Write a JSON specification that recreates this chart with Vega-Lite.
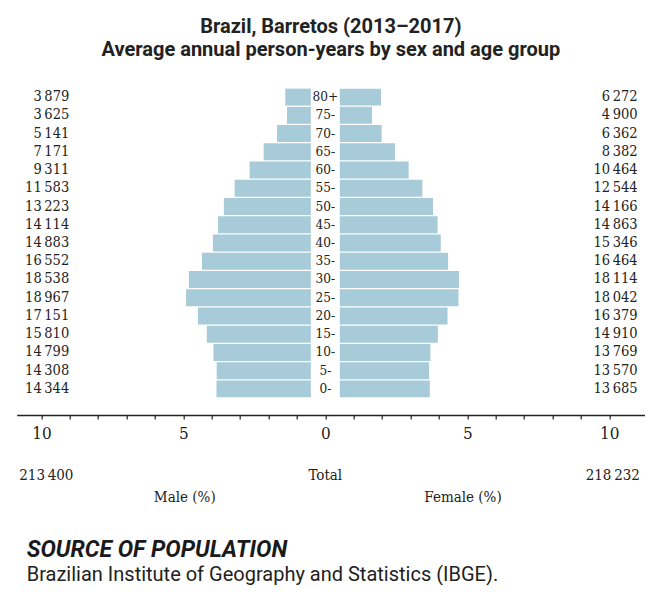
{
  "$schema": "https://vega.github.io/schema/vega-lite/v6.json",
  "background": "white",
  "padding": {"left": 16.7, "top": 16, "right": 0, "bottom": 0},
  "title": {
    "text": ["Brazil, Barretos (2013–2017)", "Average annual person-years by sex and age group"],
    "font": "Roboto", "fontSize": 20, "fontWeight": "bold", "color": "#222",
    "lineHeight": 23, "anchor": "middle", "offset": 28.5
  },
  "config": {
    "view": {"stroke": null},
    "locale": {"number": {"decimal": ".", "thousands": "\u2009", "grouping": [3], "currency": ["", ""]}}
  },
  "datasets": {
    "pop": [
      {"age": "80+", "sex": "Male", "count": 3879}, {"age": "75-", "sex": "Male", "count": 3625},
      {"age": "70-", "sex": "Male", "count": 5141}, {"age": "65-", "sex": "Male", "count": 7171},
      {"age": "60-", "sex": "Male", "count": 9311}, {"age": "55-", "sex": "Male", "count": 11583},
      {"age": "50-", "sex": "Male", "count": 13223}, {"age": "45-", "sex": "Male", "count": 14114},
      {"age": "40-", "sex": "Male", "count": 14883}, {"age": "35-", "sex": "Male", "count": 16552},
      {"age": "30-", "sex": "Male", "count": 18538}, {"age": "25-", "sex": "Male", "count": 18967},
      {"age": "20-", "sex": "Male", "count": 17151}, {"age": "15-", "sex": "Male", "count": 15810},
      {"age": "10-", "sex": "Male", "count": 14799}, {"age": "5-", "sex": "Male", "count": 14308},
      {"age": "0-", "sex": "Male", "count": 14344},
      {"age": "80+", "sex": "Female", "count": 6272}, {"age": "75-", "sex": "Female", "count": 4900},
      {"age": "70-", "sex": "Female", "count": 6362}, {"age": "65-", "sex": "Female", "count": 8382},
      {"age": "60-", "sex": "Female", "count": 10464}, {"age": "55-", "sex": "Female", "count": 12544},
      {"age": "50-", "sex": "Female", "count": 14166}, {"age": "45-", "sex": "Female", "count": 14863},
      {"age": "40-", "sex": "Female", "count": 15346}, {"age": "35-", "sex": "Female", "count": 16464},
      {"age": "30-", "sex": "Female", "count": 18114}, {"age": "25-", "sex": "Female", "count": 18042},
      {"age": "20-", "sex": "Female", "count": 16379}, {"age": "15-", "sex": "Female", "count": 14910},
      {"age": "10-", "sex": "Female", "count": 13769}, {"age": "5-", "sex": "Female", "count": 13570},
      {"age": "0-", "sex": "Female", "count": 13685}
    ],
    "totals": [
      {"sex": "Male", "total": 213400},
      {"sex": "Female", "total": 218232}
    ]
  },
  "spacing": 27,
  "vconcat": [
    {
      "width": 628.3,
      "height": 310,
      "data": {"name": "pop"},
      "transform": [
        {"joinaggregate": [{"op": "sum", "field": "count", "as": "grand"}]},
        {"calculate": "100 * datum.count / datum.grand", "as": "pct"},
        {"calculate": "datum.sex === 'Male' ? -datum.pct : datum.pct", "as": "signed"}
      ],
      "encoding": {
        "y": {
          "field": "age", "type": "nominal",
          "scale": {"domain": ["80+", "75-", "70-", "65-", "60-", "55-", "50-", "45-", "40-", "35-", "30-", "25-", "20-", "15-", "10-", "5-", "0-"], "paddingInner": 0.07, "paddingOuter": 0.035},
          "axis": null
        }
      },
      "layer": [
        {
          "transform": [{"filter": "datum.sex === 'Male'"}],
          "mark": {"type": "bar", "color": "#a7cbd8", "xOffset": -14.5, "x2Offset": -14.5},
          "encoding": {
            "x": {
              "field": "signed", "type": "quantitative",
              "scale": {"domain": [-10.87, 11.26], "nice": false, "zero": false},
              "axis": {
                "orient": "bottom", "offset": 17, "title": null, "grid": false,
                "values": [-10, -9, -8, -7, -6, -5, -4, -3, -2, -1, 0, 1, 2, 3, 4, 5, 6, 7, 8, 9, 10],
                "tickCount": 40,
                "labelExpr": "abs(datum.value) % 5 === 0 ? '' + abs(datum.value) : ''",
                "labelFont": "DejaVu Serif Condensed, DejaVu Serif", "labelFontSize": 17, "labelColor": "#222",
                "labelPadding": 6, "labelOverlap": false, "labelFlush": false,
                "tickSize": 4, "tickColor": "#222", "tickWidth": 1.2,
                "domainColor": "#222", "domainWidth": 1.5
              }
            },
            "x2": {"datum": 0}
          }
        },
        {
          "transform": [{"filter": "datum.sex === 'Female'"}],
          "mark": {"type": "bar", "color": "#a7cbd8", "xOffset": 14.5, "x2Offset": 14.5},
          "encoding": {
            "x": {"field": "signed", "type": "quantitative"},
            "x2": {"datum": 0}
          }
        },
        {
          "transform": [{"filter": "datum.sex === 'Male'"}],
          "mark": {"type": "text", "align": "right", "baseline": "middle", "font": "DejaVu Serif Condensed, DejaVu Serif", "fontSize": 14.5, "color": "#222"},
          "encoding": {
            "x": {"datum": -9.02},
            "text": {"field": "count", "type": "quantitative", "format": ",d"}
          }
        },
        {
          "transform": [{"filter": "datum.sex === 'Female'"}],
          "mark": {"type": "text", "align": "right", "baseline": "middle", "font": "DejaVu Serif Condensed, DejaVu Serif", "fontSize": 14.5, "color": "#222"},
          "encoding": {
            "x": {"datum": 11.0},
            "text": {"field": "count", "type": "quantitative", "format": ",d"}
          }
        },
        {
          "transform": [{"filter": "datum.sex === 'Male'"}],
          "mark": {"type": "text", "align": "center", "baseline": "middle", "font": "DejaVu Serif Condensed, DejaVu Serif", "fontSize": 13.5, "color": "#222"},
          "encoding": {
            "x": {"datum": 0},
            "text": {"field": "age", "type": "nominal"}
          }
        }
      ]
    },
    {
      "width": 628.3,
      "height": 22,
      "data": {"name": "totals"},
      "title": {
        "text": "SOURCE OF POPULATION",
        "subtitle": "Brazilian Institute of Geography and Statistics (IBGE).",
        "orient": "bottom", "anchor": "start", "dx": 10, "offset": 34,
        "font": "Roboto", "fontSize": 23, "fontWeight": "bold", "fontStyle": "italic", "color": "#1a1a1a",
        "subtitleFont": "Roboto", "subtitleFontSize": 20, "subtitleColor": "#222", "subtitlePadding": 3
      },
      "encoding": {
        "y": {"datum": "Total", "type": "nominal", "scale": {"type": "point", "domain": ["Total", "Sex"], "padding": 0}, "axis": null}
      },
      "layer": [
        {
          "transform": [{"filter": "datum.sex === 'Male'"}],
          "mark": {"type": "text", "align": "left", "baseline": "middle", "font": "DejaVu Serif Condensed, DejaVu Serif", "fontSize": 15, "color": "#222"},
          "encoding": {
            "x": {"datum": -10.78, "type": "quantitative", "scale": {"domain": [-10.87, 11.26], "nice": false, "zero": false}, "axis": null},
            "text": {"field": "total", "type": "quantitative", "format": ",d"}
          }
        },
        {
          "transform": [{"filter": "datum.sex === 'Female'"}],
          "mark": {"type": "text", "align": "right", "baseline": "middle", "font": "DejaVu Serif Condensed, DejaVu Serif", "fontSize": 15, "color": "#222"},
          "encoding": {
            "x": {"datum": 11.08, "type": "quantitative"},
            "text": {"field": "total", "type": "quantitative", "format": ",d"}
          }
        },
        {
          "transform": [{"filter": "datum.sex === 'Male'"}],
          "mark": {"type": "text", "align": "center", "baseline": "middle", "font": "DejaVu Serif Condensed, DejaVu Serif", "fontSize": 15, "color": "#222"},
          "encoding": {
            "x": {"datum": 0, "type": "quantitative"},
            "text": {"value": "Total"}
          }
        },
        {
          "transform": [{"filter": "datum.sex === 'Male'"}],
          "mark": {"type": "text", "align": "center", "baseline": "middle", "font": "DejaVu Serif Condensed, DejaVu Serif", "fontSize": 15, "color": "#222"},
          "encoding": {
            "x": {"datum": -4.95, "type": "quantitative"},
            "y": {"datum": "Sex", "type": "nominal"},
            "text": {"value": "Male (%)"}
          }
        },
        {
          "transform": [{"filter": "datum.sex === 'Female'"}],
          "mark": {"type": "text", "align": "center", "baseline": "middle", "font": "DejaVu Serif Condensed, DejaVu Serif", "fontSize": 15, "color": "#222"},
          "encoding": {
            "x": {"datum": 4.85, "type": "quantitative"},
            "y": {"datum": "Sex", "type": "nominal"},
            "text": {"value": "Female (%)"}
          }
        }
      ]
    }
  ]
}
